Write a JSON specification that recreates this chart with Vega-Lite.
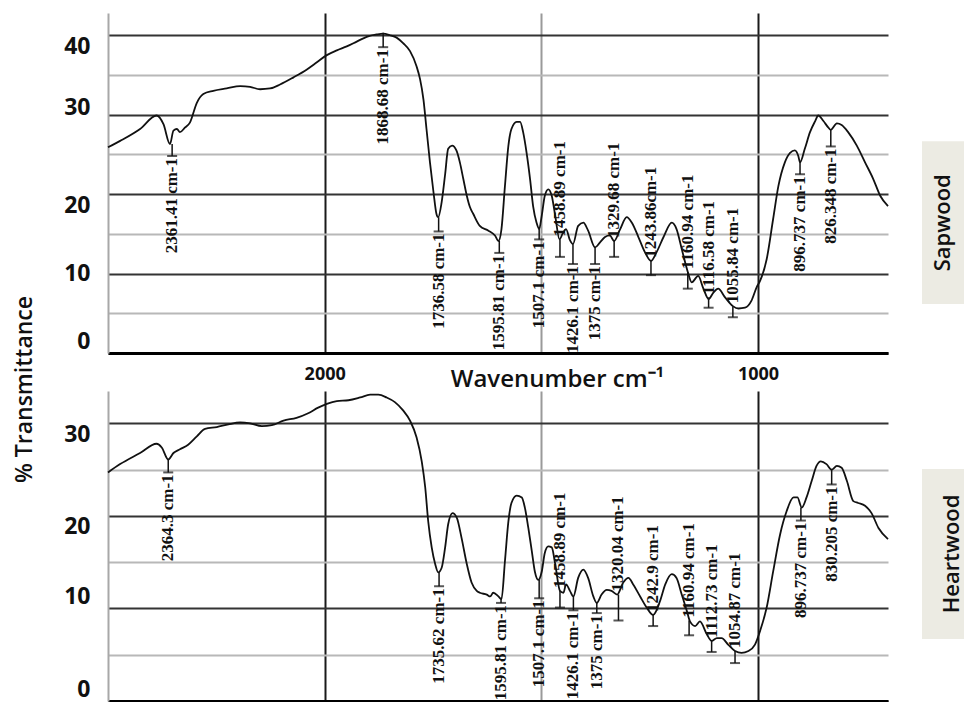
{
  "$schema": "https://vega.github.io/schema/vega-lite/v6.json",
  "padding": {"left": 13, "top": 13, "right": 0, "bottom": 1},
  "background": "white",
  "config": {"view": {"stroke": null}},
  "datasets": {
    "sap": [
      {"wn":2500,"t":25.9},{"wn":2472,"t":26.7},{"wn":2426,"t":28.2},{"wn":2388,"t":29.9},{"wn":2372,"t":28.8},{"wn":2357,"t":26.3},{"wn":2349,"t":28.0},{"wn":2341,"t":28.2},{"wn":2334,"t":27.8},{"wn":2322,"t":28.4},{"wn":2311,"t":29.0},{"wn":2295,"t":31.5},{"wn":2280,"t":32.6},{"wn":2257,"t":33.0},{"wn":2226,"t":33.3},{"wn":2195,"t":33.6},{"wn":2172,"t":33.5},{"wn":2149,"t":33.2},{"wn":2126,"t":33.3},{"wn":2103,"t":33.8},{"wn":2072,"t":34.7},{"wn":2041,"t":35.7},{"wn":2018,"t":36.6},{"wn":1995,"t":37.5},{"wn":1972,"t":38.1},{"wn":1949,"t":38.6},{"wn":1926,"t":39.2},{"wn":1903,"t":39.8},{"wn":1880,"t":40.1},{"wn":1865,"t":40.2},{"wn":1849,"t":40.0},{"wn":1834,"t":39.7},{"wn":1819,"t":39.0},{"wn":1803,"t":38.0},{"wn":1788,"t":36.1},{"wn":1780,"t":34.5},{"wn":1772,"t":31.9},{"wn":1765,"t":28.2},{"wn":1757,"t":24.0},{"wn":1749,"t":20.3},{"wn":1742,"t":17.5},{"wn":1738,"t":17.1},{"wn":1730,"t":19.0},{"wn":1722,"t":22.5},{"wn":1715,"t":25.7},{"wn":1706,"t":26.1},{"wn":1696,"t":25.5},{"wn":1688,"t":24.0},{"wn":1680,"t":21.9},{"wn":1672,"t":19.8},{"wn":1665,"t":18.4},{"wn":1657,"t":17.5},{"wn":1642,"t":16.0},{"wn":1622,"t":15.4},{"wn":1607,"t":14.8},{"wn":1599,"t":14.1},{"wn":1592,"t":15.6},{"wn":1584,"t":21.0},{"wn":1576,"t":26.1},{"wn":1569,"t":28.2},{"wn":1557,"t":29.1},{"wn":1549,"t":29.1},{"wn":1542,"t":27.8},{"wn":1534,"t":25.2},{"wn":1526,"t":21.9},{"wn":1519,"t":18.5},{"wn":1511,"t":16.4},{"wn":1505,"t":15.6},{"wn":1499,"t":17.3},{"wn":1492,"t":19.8},{"wn":1484,"t":20.6},{"wn":1476,"t":19.8},{"wn":1468,"t":17.3},{"wn":1458,"t":14.3},{"wn":1451,"t":15.0},{"wn":1443,"t":15.6},{"wn":1434,"t":14.2},{"wn":1427,"t":13.7},{"wn":1415,"t":16.0},{"wn":1403,"t":16.4},{"wn":1392,"t":15.4},{"wn":1376,"t":13.3},{"wn":1365,"t":13.9},{"wn":1353,"t":14.6},{"wn":1342,"t":14.8},{"wn":1332,"t":14.1},{"wn":1318,"t":15.6},{"wn":1303,"t":17.1},{"wn":1291,"t":16.4},{"wn":1276,"t":14.6},{"wn":1261,"t":12.7},{"wn":1247,"t":11.6},{"wn":1234,"t":12.7},{"wn":1218,"t":14.6},{"wn":1199,"t":16.4},{"wn":1188,"t":15.6},{"wn":1176,"t":13.1},{"wn":1162,"t":10.2},{"wn":1153,"t":8.9},{"wn":1138,"t":9.7},{"wn":1126,"t":8.1},{"wn":1114,"t":6.8},{"wn":1103,"t":7.6},{"wn":1092,"t":8.1},{"wn":1076,"t":7.0},{"wn":1058,"t":5.9},{"wn":1045,"t":5.6},{"wn":1030,"t":5.7},{"wn":1015,"t":6.6},{"wn":1003,"t":8.3},{"wn":995,"t":9.1},{"wn":980,"t":11.8},{"wn":965,"t":16.9},{"wn":953,"t":21.0},{"wn":938,"t":24.0},{"wn":926,"t":25.2},{"wn":915,"t":25.5},{"wn":907,"t":24.8},{"wn":903,"t":24.0},{"wn":892,"t":25.7},{"wn":880,"t":27.8},{"wn":868,"t":29.2},{"wn":861,"t":29.9},{"wn":849,"t":29.2},{"wn":838,"t":28.4},{"wn":832,"t":28.1},{"wn":818,"t":28.9},{"wn":807,"t":28.7},{"wn":792,"t":27.8},{"wn":772,"t":26.1},{"wn":753,"t":24.0},{"wn":734,"t":21.9},{"wn":718,"t":19.8},{"wn":700,"t":18.5}
    ],
    "heart": [
      {"wn":2500,"t":24.7},{"wn":2472,"t":25.6},{"wn":2426,"t":26.8},{"wn":2388,"t":27.8},{"wn":2376,"t":27.4},{"wn":2361,"t":26.1},{"wn":2349,"t":26.8},{"wn":2334,"t":27.2},{"wn":2315,"t":27.7},{"wn":2295,"t":28.6},{"wn":2276,"t":29.4},{"wn":2249,"t":29.6},{"wn":2222,"t":29.9},{"wn":2195,"t":30.1},{"wn":2172,"t":30.0},{"wn":2145,"t":29.7},{"wn":2122,"t":29.8},{"wn":2095,"t":30.3},{"wn":2065,"t":30.6},{"wn":2038,"t":31.1},{"wn":2015,"t":31.7},{"wn":1995,"t":32.1},{"wn":1972,"t":32.4},{"wn":1945,"t":32.5},{"wn":1918,"t":32.8},{"wn":1895,"t":33.1},{"wn":1876,"t":33.1},{"wn":1857,"t":32.8},{"wn":1838,"t":32.3},{"wn":1819,"t":31.4},{"wn":1803,"t":30.3},{"wn":1788,"t":28.5},{"wn":1776,"t":25.9},{"wn":1768,"t":23.1},{"wn":1761,"t":19.4},{"wn":1753,"t":16.6},{"wn":1745,"t":14.8},{"wn":1738,"t":13.9},{"wn":1730,"t":14.4},{"wn":1722,"t":16.6},{"wn":1715,"t":19.1},{"wn":1705,"t":20.3},{"wn":1695,"t":19.8},{"wn":1684,"t":17.6},{"wn":1672,"t":14.8},{"wn":1661,"t":12.8},{"wn":1649,"t":11.9},{"wn":1642,"t":11.7},{"wn":1626,"t":11.5},{"wn":1618,"t":11.3},{"wn":1611,"t":11.7},{"wn":1599,"t":11.3},{"wn":1592,"t":11.0},{"wn":1584,"t":15.1},{"wn":1576,"t":19.4},{"wn":1569,"t":21.4},{"wn":1557,"t":22.2},{"wn":1545,"t":22.0},{"wn":1538,"t":20.9},{"wn":1530,"t":18.7},{"wn":1522,"t":16.2},{"wn":1515,"t":14.0},{"wn":1507,"t":13.1},{"wn":1499,"t":14.0},{"wn":1492,"t":16.0},{"wn":1484,"t":16.7},{"wn":1476,"t":16.6},{"wn":1468,"t":14.8},{"wn":1457,"t":11.9},{"wn":1449,"t":11.7},{"wn":1443,"t":12.6},{"wn":1434,"t":11.9},{"wn":1426,"t":11.3},{"wn":1415,"t":13.3},{"wn":1403,"t":14.2},{"wn":1392,"t":13.3},{"wn":1380,"t":11.3},{"wn":1372,"t":10.6},{"wn":1361,"t":11.5},{"wn":1349,"t":12.0},{"wn":1338,"t":11.9},{"wn":1325,"t":11.5},{"wn":1311,"t":12.8},{"wn":1299,"t":13.3},{"wn":1288,"t":12.6},{"wn":1272,"t":11.3},{"wn":1257,"t":10.1},{"wn":1242,"t":9.3},{"wn":1226,"t":10.8},{"wn":1214,"t":12.6},{"wn":1199,"t":13.7},{"wn":1188,"t":13.3},{"wn":1176,"t":11.5},{"wn":1164,"t":9.7},{"wn":1157,"t":8.6},{"wn":1145,"t":8.1},{"wn":1134,"t":8.6},{"wn":1118,"t":7.2},{"wn":1107,"t":6.5},{"wn":1095,"t":6.8},{"wn":1084,"t":6.8},{"wn":1069,"t":6.1},{"wn":1053,"t":5.4},{"wn":1038,"t":5.2},{"wn":1022,"t":5.4},{"wn":1007,"t":6.1},{"wn":995,"t":7.6},{"wn":980,"t":10.1},{"wn":965,"t":14.0},{"wn":949,"t":18.0},{"wn":934,"t":20.5},{"wn":918,"t":22.0},{"wn":909,"t":22.0},{"wn":899,"t":20.9},{"wn":888,"t":22.0},{"wn":876,"t":23.8},{"wn":865,"t":25.4},{"wn":855,"t":25.9},{"wn":842,"t":25.6},{"wn":830,"t":25.0},{"wn":818,"t":25.4},{"wn":807,"t":25.2},{"wn":795,"t":23.8},{"wn":780,"t":21.6},{"wn":769,"t":21.4},{"wn":753,"t":21.1},{"wn":738,"t":20.3},{"wn":722,"t":18.7},{"wn":700,"t":17.5}
    ],
    "sapAnn": [
      {"wn":2352,"y1":26.3,"y2":24.8,"label":"2361.41 cm-1","pos":"below"},
      {"wn":1865,"y1":40.3,"y2":38.5,"label":"1868.68 cm-1","pos":"below"},
      {"wn":1737,"y1":17.1,"y2":15.3,"label":"1736.58 cm-1","pos":"below"},
      {"wn":1597,"y1":14.1,"y2":12.6,"label":"1595.81 cm-1","pos":"below"},
      {"wn":1505,"y1":15.6,"y2":14.3,"label":"1507.1 cm-1","pos":"below"},
      {"wn":1457,"y1":14.3,"y2":12.1,"label":"1458.89 cm-1","pos":"above"},
      {"wn":1427,"y1":13.7,"y2":11.2,"label":"1426.1 cm-1","pos":"below"},
      {"wn":1376,"y1":13.3,"y2":11.2,"label":"1375 cm-1","pos":"below"},
      {"wn":1332,"y1":14.1,"y2":12.1,"label":"1329.68 cm-1","pos":"above"},
      {"wn":1247,"y1":11.6,"y2":9.8,"label":"1243.86cm-1","pos":"above"},
      {"wn":1162,"y1":10.2,"y2":8.1,"label":"1160.94 cm-1","pos":"above"},
      {"wn":1114,"y1":7.0,"y2":5.7,"label":"1116.58 cm-1","pos":"above"},
      {"wn":1058,"y1":5.9,"y2":4.5,"label":"1055.84 cm-1","pos":"above"},
      {"wn":903,"y1":24.0,"y2":22.5,"label":"896.737 cm-1","pos":"below"},
      {"wn":832,"y1":28.1,"y2":26.0,"label":"826.348 cm-1","pos":"below"}
    ],
    "heartAnn": [
      {"wn":2361,"y1":26.1,"y2":24.7,"label":"2364.3 cm-1","pos":"below"},
      {"wn":1736,"y1":13.9,"y2":12.4,"label":"1735.62 cm-1","pos":"below"},
      {"wn":1593,"y1":11.0,"y2":10.6,"label":"1595.81 cm-1","pos":"below"},
      {"wn":1505,"y1":13.1,"y2":11.1,"label":"1507.1 cm-1","pos":"below"},
      {"wn":1457,"y1":11.9,"y2":10.1,"label":"1458.89 cm-1","pos":"above"},
      {"wn":1426,"y1":11.3,"y2":9.8,"label":"1426.1 cm-1","pos":"below"},
      {"wn":1372,"y1":10.6,"y2":9.5,"label":"1375 cm-1","pos":"below"},
      {"wn":1322,"y1":11.5,"y2":8.7,"label":"1320.04 cm-1","pos":"above"},
      {"wn":1242,"y1":9.3,"y2":8.1,"label":"1242.9 cm-1","pos":"above"},
      {"wn":1159,"y1":8.7,"y2":7.1,"label":"1160.94 cm-1","pos":"above"},
      {"wn":1107,"y1":6.5,"y2":5.3,"label":"1112.73 cm-1","pos":"above"},
      {"wn":1053,"y1":5.4,"y2":4.1,"label":"1054.87 cm-1","pos":"above"},
      {"wn":901,"y1":20.9,"y2":19.5,"label":"896.737 cm-1","pos":"below"},
      {"wn":830,"y1":25.0,"y2":23.4,"label":"830.205 cm-1","pos":"below"}
    ]
  },
  "concat": [
    {
      "width": 780,
      "height": 340,
      "encoding": {
        "x": {
          "field": "wn", "type": "quantitative",
          "scale": {"domain": [2500, 700], "nice": false, "zero": false},
          "axis": {
            "values": [2000, 1500, 1000],
            "format": "d",
            "labelExpr": "datum.value === 1500 ? '' : datum.label",
            "grid": true,
            "gridColor": {"condition": {"test": "datum.value === 1500", "value": "#9a9a9a"}, "value": "#1a1a1a"},
            "gridWidth": 2,
            "domain": true, "domainColor": "#000000", "domainWidth": 3,
            "ticks": false,
            "labelFont": "Open Sans", "labelFontWeight": "bold", "labelFontSize": 18, "labelColor": "#111111",
            "labelPadding": 12, "labelFlush": false, "labelOverlap": false,
            "title": "Wavenumber cm⁻¹",
            "titleFont": "Open Sans", "titleFontSize": 24, "titleFontWeight": 600, "titleColor": "#111111",
            "titleX": 449, "titleY": 14, "titleBaseline": "top", "titleAlign": "center"
          }
        }
      },
      "layer": [
        {
          "data": {"name": "sap"},
          "mark": {"type": "line", "color": "#111111", "strokeWidth": 1.8, "interpolate": "monotone"},
          "encoding": {
            "y": {
              "field": "t", "type": "quantitative",
              "scale": {"domain": [0, 42.8], "nice": false, "zero": false},
              "axis": {
                "values": [0, 5, 10, 15, 20, 25, 30, 35, 40],
                "labelExpr": "datum.value % 10 === 0 ? datum.label : ''",
                "grid": true,
                "gridColor": {"condition": {"test": "datum.value % 10 === 0", "value": "#333333"}, "value": "#b8b8b8"},
                "gridWidth": 2,
                "domain": true, "domainColor": "#a8a8a8", "domainWidth": 2,
                "ticks": false,
                "labelFont": "Open Sans", "labelFontWeight": "bold", "labelFontSize": 23, "labelColor": "#111111",
                "labelPadding": 18, "labelOverlap": false, "labelFlush": false,
                "labelBaseline": {"condition": [
                  {"test": "datum.value === 40", "value": "top"},
                  {"test": "datum.value === 30", "value": "alphabetic"},
                  {"test": "datum.value === 20", "value": "top"},
                  {"test": "datum.value === 0", "value": "bottom"}
                ], "value": "middle"},
                "title": "% Transmittance",
                "titleFont": "Open Sans", "titleFontSize": 23, "titleFontWeight": 600, "titleColor": "#111111",
                "titleAngle": 270, "titleX": -84, "titleY": 376, "titleAlign": "center", "titleBaseline": "middle"
              }
            }
          }
        },
        {
          "data": {"name": "sapAnn"},
          "mark": {"type": "rule", "color": "#111111", "strokeWidth": 1.5},
          "encoding": {
            "y": {"field": "y1", "type": "quantitative"},
            "y2": {"field": "y2"}
          }
        },
        {
          "data": {"name": "sapAnn"},
          "mark": {"type": "tick", "orient": "horizontal", "size": 10, "thickness": 2, "color": "#111111"},
          "encoding": {
            "y": {"field": "y2", "type": "quantitative"}
          }
        },
        {
          "data": {"name": "sapAnn"},
          "transform": [{"filter": "datum.pos === 'below'"}],
          "mark": {"type": "text", "angle": 270, "align": "right", "baseline": "middle", "dx": -2, "font": "Liberation Serif", "fontSize": 17, "fontWeight": "bold", "color": "#111111", "clip": true},
          "encoding": {
            "y": {"field": "y2", "type": "quantitative"},
            "text": {"field": "label"}
          }
        },
        {
          "data": {"name": "sapAnn"},
          "transform": [{"filter": "datum.pos === 'above'"}],
          "mark": {"type": "text", "angle": 270, "align": "left", "baseline": "middle", "dx": 3, "font": "Liberation Serif", "fontSize": 17, "fontWeight": "bold", "color": "#111111", "clip": true},
          "encoding": {
            "y": {"field": "y1", "type": "quantitative"},
            "text": {"field": "label"}
          }
        }
      ]
    },
    {
      "width": 42,
      "height": 340,
      "data": {"values": [{"panel": "Sapwood"}]},
      "layer": [
        {
          "mark": {"type": "rect", "color": "#ecebe3"},
          "encoding": {
            "y": {"datum": 26.67, "type": "quantitative", "scale": {"domain": [0, 42.8], "nice": false, "zero": false}, "axis": null},
            "y2": {"datum": 6.16}
          }
        },
        {
          "mark": {"type": "text", "angle": 270, "align": "center", "baseline": "middle", "font": "Open Sans", "fontSize": 22, "fontWeight": 600, "color": "#111111"},
          "encoding": {
            "y": {"datum": 16.4, "type": "quantitative", "scale": {"domain": [0, 42.8], "nice": false, "zero": false}, "axis": null},
            "text": {"field": "panel"}
          }
        }
      ]
    },
    {
      "width": 780,
      "height": 310,
      "encoding": {
        "x": {
          "field": "wn", "type": "quantitative",
          "scale": {"domain": [2500, 700], "nice": false, "zero": false},
          "axis": {
            "values": [2000, 1500, 1000],
            "labels": false,
            "title": null,
            "grid": true,
            "gridColor": {"condition": {"test": "datum.value === 1500", "value": "#9a9a9a"}, "value": "#1a1a1a"},
            "gridWidth": 2,
            "domain": true, "domainColor": "#000000", "domainWidth": 3,
            "ticks": false
          }
        }
      },
      "layer": [
        {
          "data": {"name": "heart"},
          "mark": {"type": "line", "color": "#111111", "strokeWidth": 1.8, "interpolate": "monotone"},
          "encoding": {
            "y": {
              "field": "t", "type": "quantitative",
              "scale": {"domain": [0, 33.5], "nice": false, "zero": false},
              "axis": {
                "values": [0, 5, 10, 15, 20, 25, 30],
                "labelExpr": "datum.value % 10 === 0 ? datum.label : ''",
                "grid": true,
                "gridColor": {"condition": {"test": "datum.value % 10 === 0", "value": "#333333"}, "value": "#b8b8b8"},
                "gridWidth": 2,
                "domain": true, "domainColor": "#a8a8a8", "domainWidth": 2,
                "ticks": false,
                "labelFont": "Open Sans", "labelFontWeight": "bold", "labelFontSize": 23, "labelColor": "#111111",
                "labelPadding": 18, "labelOverlap": false, "labelFlush": false,
                "labelBaseline": {"condition": [
                  {"test": "datum.value === 30", "value": "top"},
                  {"test": "datum.value === 20", "value": "top"},
                  {"test": "datum.value === 10", "value": "bottom"},
                  {"test": "datum.value === 0", "value": "bottom"}
                ], "value": "middle"},
                "title": null
              }
            }
          }
        },
        {
          "data": {"name": "heartAnn"},
          "mark": {"type": "rule", "color": "#111111", "strokeWidth": 1.5},
          "encoding": {
            "y": {"field": "y1", "type": "quantitative"},
            "y2": {"field": "y2"}
          }
        },
        {
          "data": {"name": "heartAnn"},
          "mark": {"type": "tick", "orient": "horizontal", "size": 10, "thickness": 2, "color": "#111111"},
          "encoding": {
            "y": {"field": "y2", "type": "quantitative"}
          }
        },
        {
          "data": {"name": "heartAnn"},
          "transform": [{"filter": "datum.pos === 'below'"}],
          "mark": {"type": "text", "angle": 270, "align": "right", "baseline": "middle", "dx": -2, "font": "Liberation Serif", "fontSize": 17, "fontWeight": "bold", "color": "#111111", "clip": true},
          "encoding": {
            "y": {"field": "y2", "type": "quantitative"},
            "text": {"field": "label"}
          }
        },
        {
          "data": {"name": "heartAnn"},
          "transform": [{"filter": "datum.pos === 'above'"}],
          "mark": {"type": "text", "angle": 270, "align": "left", "baseline": "middle", "dx": 3, "font": "Liberation Serif", "fontSize": 17, "fontWeight": "bold", "color": "#111111", "clip": true},
          "encoding": {
            "y": {"field": "y1", "type": "quantitative"},
            "text": {"field": "label"}
          }
        }
      ]
    },
    {
      "width": 42,
      "height": 310,
      "data": {"values": [{"panel": "Heartwood"}]},
      "layer": [
        {
          "mark": {"type": "rect", "color": "#ecebe3"},
          "encoding": {
            "y": {"datum": 25.07, "type": "quantitative", "scale": {"domain": [0, 33.5], "nice": false, "zero": false}, "axis": null},
            "y2": {"datum": 6.7}
          }
        },
        {
          "mark": {"type": "text", "angle": 270, "align": "center", "baseline": "middle", "dy": 9, "font": "Open Sans", "fontSize": 22, "fontWeight": 600, "color": "#111111"},
          "encoding": {
            "y": {"datum": 15.9, "type": "quantitative", "scale": {"domain": [0, 33.5], "nice": false, "zero": false}, "axis": null},
            "text": {"field": "panel"}
          }
        }
      ]
    }
  ],
  "columns": 2,
  "spacing": {"row": 38, "column": 34},
  "bounds": "flush"
}
